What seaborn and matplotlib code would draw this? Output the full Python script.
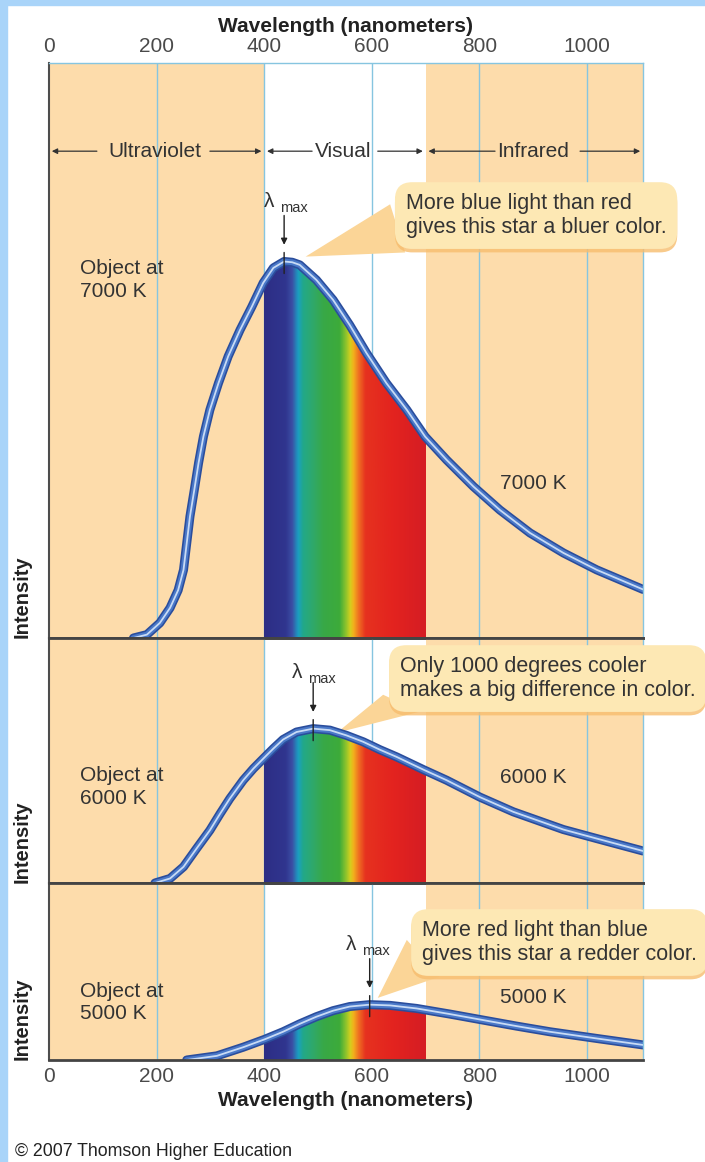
import numpy as np
import pandas as pd

import matplotlib
matplotlib.use('Agg')
import matplotlib.pyplot as plt
import matplotlib.patheffects as pe
from matplotlib.colors import LinearSegmentedColormap
from matplotlib.patches import Polygon, Rectangle
from matplotlib.transforms import offset_copy
import seaborn as sns

# blackbody curves: wavelength (nm) and intensity (% of the 7000 K peak)
wl_7000 = [157, 182, 206, 225, 240, 250, 256, 262, 270, 278, 287, 299, 315, 333, 355, 377, 398, 417,
           437, 452, 466, 497, 528, 559, 590, 627, 665, 699, 739, 789, 838, 894, 956, 1018, 1104]
int_7000 = [0, 0.9, 4.0, 8.0, 12.7, 18.1, 25.2, 32.3, 39.3, 46.5, 53.5, 60.6, 67.7, 74.8, 81.8, 88.0, 94.3, 98.3,
            100, 99.8, 99.1, 95.1, 89.8, 83.1, 75.7, 67.7, 60.6, 53.5, 47.3, 40.2, 34.0, 27.9, 22.6, 18.1, 12.9]

wl_6000 = [197, 225, 250, 274, 299, 318, 336, 361, 380, 398, 417, 435, 460, 491, 522, 553, 584, 615,
           646, 696, 739, 801, 863, 956, 1018, 1104]
int_6000 = [0, 1.2, 4.3, 9.1, 14.0, 18.4, 22.4, 27.3, 30.4, 33.0, 35.7, 38.1, 40.1, 41.0, 40.6, 39.2, 37.5, 35.4,
            33.5, 30.1, 27.3, 22.8, 18.9, 14.2, 11.8, 8.5]

wl_5000 = [256, 312, 361, 401, 435, 466, 497, 528, 559, 596, 634, 683, 745, 807, 869, 931, 1024, 1104]
int_5000 = [0, 1.1, 3.4, 5.5, 7.5, 9.6, 11.5, 13.1, 14.2, 14.7, 14.5, 13.7, 12.2, 10.6, 9.0, 7.5, 5.6, 4.0]

temps = ['7000 K', '6000 K', '5000 K']
callouts = ['More blue light than red\ngives this star a bluer color.',
            'Only 1000 degrees cooler\nmakes a big difference in color.',
            'More red light than blue\ngives this star a redder color.']
xticks = [0, 200, 400, 600, 800, 1000]
regions = ['Ultraviolet', 'Visual', 'Infrared']
visual_band = (400, 700)

# colours of the visible spectrum, by wavelength
spec_stops = [(400, '#2d2e85'), (440, '#30358f'), (452, '#3b4fa5'), (463, '#1a9fc2'),
              (472, '#22a889'), (490, '#2fa96b'), (510, '#38a847'), (540, '#3dab3a'),
              (552, '#8fc42c'), (560, '#d4cf1e'), (566, '#f2b01c'), (576, '#ef6d22'),
              (588, '#e6321f'), (640, '#e3231f'), (700, '#d51d24')]

PEACH = '#fddcab'
GRID = '#86c5e0'
TXT = '#333333'
BASE = '#444444'
W, H = 705, 1162
XMAX = 1104
PX_PER_UNIT = 3.765

sns.set_style('white')
plt.rcParams['font.family'] = ['Liberation Sans', 'DejaVu Sans']

fig = plt.figure(figsize=(W / 100, H / 100), dpi=100)

spec_cmap = LinearSegmentedColormap.from_list(
    'spec', [((w - 400) / 300, c) for w, c in spec_stops])

curves = [(wl_7000, int_7000), (wl_6000, int_6000), (wl_5000, int_5000)]
panel_px = [(63, 638), (638, 883), (883, 1060)]
# text placement per panel (data coords)
obj_y = [95.1, 25.4, 15.3]
lab_y = [41.0, 27.9, 16.5]
call_xy = [(663, 112.2), (652, 54.3), (693, 31.2)]
tails = [[(477, 101.3), (634, 115.2), (662, 102.4)],
         [(535, 39.9), (621, 50.0), (689, 45.5)],
         [(611, 16.5), (665, 31.9), (726, 22.1)]]
lam_off = [(-15, 60), (-16, 56), (-19, 60)]

axes = []
for i, ((wl, inten), (top, bot)) in enumerate(zip(curves, panel_px)):
    ax = fig.add_axes([49 / W, 1 - bot / H, (643 - 49) / W, (bot - top) / H])
    axes.append(ax)
    ymax = (bot - top) / PX_PER_UNIT
    ax.patch.set_visible(False)
    ax.axvspan(0, visual_band[0], color=PEACH, lw=0, zorder=0)
    ax.axvspan(visual_band[1], XMAX, color=PEACH, lw=0, zorder=0)
    for x in xticks[1:]:
        ax.axvline(x, color=GRID, lw=1, zorder=0.5)

    # spectrum under the curve
    grad = np.linspace(0, 1, 600).reshape(1, -1)
    im = ax.imshow(grad, extent=[visual_band[0], visual_band[1], 0, ymax], aspect='auto',
                   cmap=spec_cmap, zorder=2, interpolation='bilinear')
    clip = Polygon([(wl[0], 0)] + list(zip(wl, inten)) + [(wl[-1], 0)], transform=ax.transData)
    im.set_clip_path(clip)

    df = pd.DataFrame({'wavelength': wl, 'intensity': inten})
    sns.lineplot(data=df, x='wavelength', y='intensity', ax=ax, color='#2a4d9c', lw=6.5, zorder=4)
    sns.lineplot(data=df, x='wavelength', y='intensity', ax=ax, color='#4a78c8', lw=4.2, zorder=4)
    sns.lineplot(data=df, x='wavelength', y='intensity', ax=ax, color='#c8dbf5', lw=1.3, zorder=4)

    ax.set_xlim(0, XMAX)
    ax.set_ylim(0, ymax)
    ax.set_xlabel('')
    ax.set_ylabel('')
    ax.set_yticks([])
    ax.set_xticks(xticks)
    ax.tick_params(length=0, labelsize=15, labelcolor='#4a4a4a', pad=5,
                   labelbottom=False, labeltop=False)

    for s in ax.spines.values():
        s.set_visible(True)
        s.set_zorder(5)
    ax.spines['left'].set_color('#4d4d4d')
    ax.spines['left'].set_linewidth(1.5)
    ax.spines['bottom'].set_color(BASE)
    ax.spines['bottom'].set_linewidth(2)
    ax.spines['right'].set_color(GRID)
    ax.spines['right'].set_linewidth(1)
    if i == 0:
        ax.spines['top'].set_color(GRID)
        ax.spines['top'].set_linewidth(1)
    else:
        # shared border with the panel above is its dark baseline
        ax.spines['top'].set_color(BASE)
        ax.spines['top'].set_linewidth(2)

    # lambda max marker
    k = int(np.argmax(inten))
    px, py = wl[k], inten[k]
    ax.annotate('', xy=(px, py), xytext=(0, 46), textcoords='offset pixels',
                arrowprops=dict(arrowstyle='-|>', color='#222222', lw=1, mutation_scale=9,
                                shrinkA=0, shrinkB=12))
    lo = offset_copy(ax.transData, fig=fig, x=0, y=-12, units='dots')
    hi = offset_copy(ax.transData, fig=fig, x=0, y=9, units='dots')
    ax.annotate('', xy=(px, py), xycoords=lo, xytext=(px, py), textcoords=hi,
                arrowprops=dict(arrowstyle='-', color='#222222', lw=1, shrinkA=0, shrinkB=0),
                zorder=6)
    dx, dy = lam_off[i]
    ax.annotate('λ', xy=(px, py), xytext=(dx, dy), textcoords='offset pixels',
                ha='center', va='center', fontsize=15, color=TXT)
    ax.annotate('max', xy=(px, py), xytext=(dx + 25, dy - 6), textcoords='offset pixels',
                ha='center', va='center', fontsize=10.5, color=TXT)

    # labels
    ax.text(57.6, obj_y[i], 'Object at\n' + temps[i], ha='left', va='center',
            fontsize=15, color=TXT, linespacing=1.25)
    ax.text(838, lab_y[i], temps[i], ha='left', va='center', fontsize=15, color=TXT)
    ax.text(-0.045, 0.0, 'Intensity', transform=ax.transAxes, rotation=90,
            ha='center', va='bottom', fontsize=14.5, fontweight='bold', color='#222222')

    # callout bubble
    ax.add_patch(Polygon(tails[i], closed=True, fc='#fbd597', ec='none', zorder=3, clip_on=False))
    cx, cy = call_xy[i]
    t = ax.text(cx, cy, callouts[i], ha='left', va='center', fontsize=15.5, color=TXT,
                linespacing=1.2, zorder=7, clip_on=False,
                bbox=dict(boxstyle='round,pad=0.5,rounding_size=0.8', fc='#fde8b4', ec='none'))
    t.get_bbox_patch().set_path_effects([
        pe.SimplePatchShadow(offset=(0, -2.5), shadow_rgbFace='#f7bd6e', alpha=0.8),
        pe.Normal()])

# region labels with arrows in the top panel
ax1 = axes[0]
ry = 129.3
reg_spec = [('Ultraviolet', 197, (89, 0), (299, 400)),
            ('Visual', 546, (489, 400), (611, 700)),
            ('Infrared', 900, (829, 700), (987, XMAX))]
for lab, cx, (a0, a1), (b0, b1) in reg_spec:
    ax1.text(cx, ry, lab, ha='center', va='center', fontsize=15, color=TXT, zorder=6)
    for s, e in [(a0, a1), (b0, b1)]:
        ax1.annotate('', xy=(e, ry), xytext=(s, ry),
                     arrowprops=dict(arrowstyle='-|>', color='#333333', lw=0.9, mutation_scale=8,
                                     shrinkA=0, shrinkB=2))

ax1.tick_params(axis='x', top=True, labeltop=True)
ax1.set_xlabel('Wavelength (nanometers)', fontsize=15, fontweight='bold', color='#222222', labelpad=4)
ax1.xaxis.set_label_position('top')

ax3 = axes[-1]
ax3.tick_params(axis='x', labelbottom=True)
ax3.set_xlabel('Wavelength (nanometers)', fontsize=15, fontweight='bold', color='#222222', labelpad=4)

fig.text(15 / W, 1 - 1152 / H, '© 2007 Thomson Higher Education', fontsize=12.8,
         color='#222222', va='center', ha='left')

# light blue frame on the left and top
fig.add_artist(Rectangle((0, 0), 7 / W, 1, transform=fig.transFigure, color='#a9d4f9', zorder=10))
fig.add_artist(Rectangle((0, 1 - 5 / H), 1, 5 / H, transform=fig.transFigure, color='#a9d4f9', zorder=10))

fig.savefig('out.png', dpi=100, facecolor='white')
